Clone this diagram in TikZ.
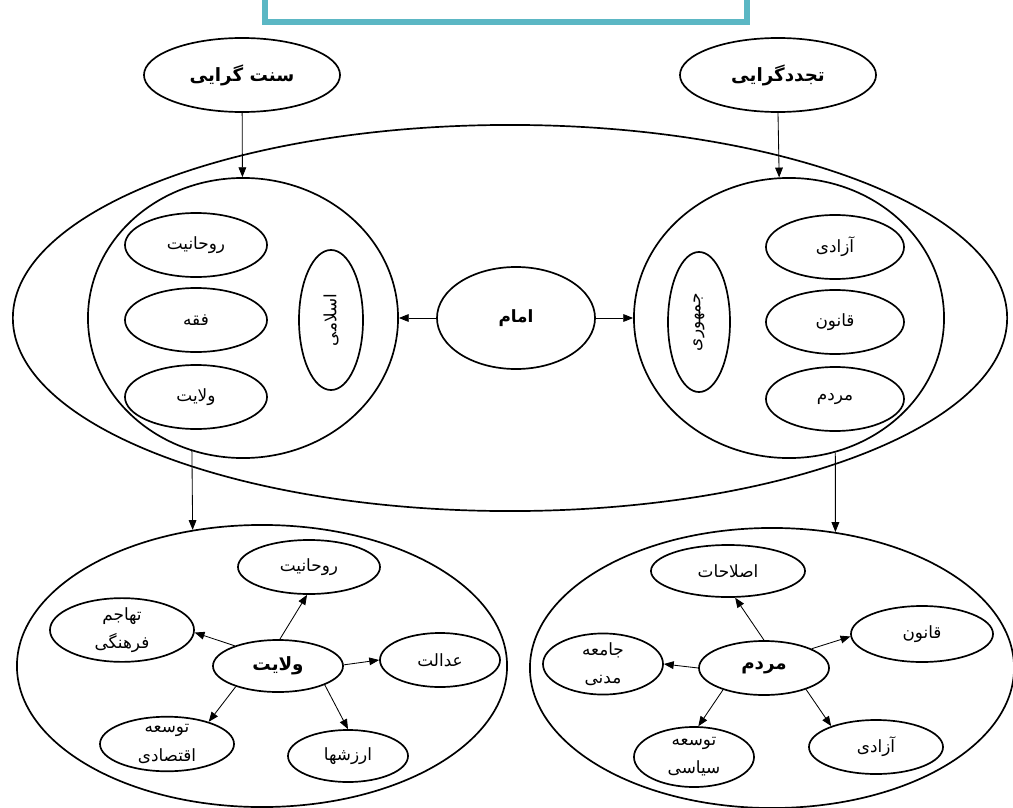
\documentclass[tikz,border=0pt]{standalone}
\usepackage{fontspec}
\usepackage[dvipsnames]{xcolor}
\usetikzlibrary{shapes.geometric,arrows.meta}
\newfontfamily\fa[Script=Arabic]{DejaVu Sans}
\TeXXeTstate=1
\definecolor{boxteal}{RGB}{91,183,196}

\begin{document}
\begin{tikzpicture}[x=0.025cm,y=-0.025cm,>={Triangle[length=7pt,width=5.5pt]},
    oval node/.style 2 args={ellipse,draw,line width=1.2pt,inner sep=0pt,align=center,
        minimum width=#1*0.05cm,minimum height=#2*0.05cm,font=\fa\fontsize{12}{20}\selectfont},
    key node/.style={font=\fa\bfseries\fontsize{13}{15}\selectfont},
    link/.style={->,line width=0.6pt}]
                \useasboundingbox (0,0) rectangle (1013,808);
                \node[draw=boxteal,line width=4.3pt,minimum width=12.05cm,minimum height=1.55cm] (0) at (506,-9) {};

                \node[oval node={98}{37},key node] (1) at (242,75) {\beginR سنت گرایی\endR};
                \node[oval node={98}{37},key node] (2) at (778,75) {\beginR تجددگرایی\endR};
                \node[oval node={497}{193}] (3) at (510,318) {};
                \node[oval node={155}{140}] (4) at (243,318) {};
                \node[oval node={155}{140}] (5) at (789,318) {};
                \node[oval node={79}{51},key node,font=\fa\bfseries\fontsize{12}{14}\selectfont] (8) at (516,318) {\beginR امام\endR};

                % sonnat side
                \node[oval node={71}{32}] (9) at (196,245) {\beginR روحانیت\endR};
                \node[oval node={71}{32}] (10) at (196,320) {\beginR فقه\endR};
                \node[oval node={71}{32}] (11) at (196,397) {\beginR ولایت\endR};
                \node[oval node={32}{70}] (12) at (331,320) {\rotatebox{90}{\beginR اسلامی\endR}};

                % tajadod side
                \node[oval node={31}{70}] (13) at (699,322) {\rotatebox{90}{\beginR جمهوری\endR}};
                \node[oval node={69}{32}] (14) at (835,247) {\beginR آزادی\endR};
                \node[oval node={69}{32}] (15) at (835,322) {\beginR قانون\endR};
                \node[oval node={69}{32}] (16) at (835,399) {\beginR مردم\endR};

                % bottom left
                \node[oval node={245}{141}] (6) at (262,666) {};
                \node[oval node={65}{26},key node] (17) at (278,666) {\beginR ولایت\endR};
                \node[oval node={71}{27}] (18) at (309,567) {\beginR روحانیت\endR};
                \node[oval node={72}{27}] (19) at (122,630) {\beginR تهاجم\endR\\\beginR فرهنگی\endR};
                \node[oval node={60}{27}] (20) at (440,660) {\beginR عدالت\endR};
                \node[oval node={67}{27}] (21) at (167,744) {\beginR توسعه\endR\\\beginR اقتصادی\endR};
                \node[oval node={60}{26}] (22) at (348,756) {\beginR ارزشها\endR};

                % bottom right
                \node[oval node={242}{140}] (7) at (772,668) {};
                \node[oval node={65}{27},key node] (23) at (764,668) {\beginR مردم\endR};
                \node[oval node={77}{26}] (24) at (728,571) {\beginR اصلاحات\endR};
                \node[oval node={71}{28}] (25) at (922,634) {\beginR قانون\endR};
                \node[oval node={60}{26}] (26) at (603,664) {\beginR جامعه\endR\\\beginR مدنی\endR};
                \node[oval node={60}{30}] (27) at (694,757) {\beginR توسعه\endR\\\beginR سیاسی\endR};
                \node[oval node={67}{27}] (28) at (876,747) {\beginR آزادی\endR};

                \path[link]
                    (1) edge (4)
                    (2.270) edge (5.94)
                    (8) edge (4)
                    (8) edge (5)
                    (4.249) edge (6.117)
                    (5.289) edge (7.65)
                    (17.86) edge (18.266)
                    (17.155) edge (19.358)
                    (17.1) edge (20.180)
                    (17.206) edge (21.28)
                    (17.338) edge (22.90)
                    (23.90) edge (24.285)
                    (23.22) edge (25.182)
                    (23.180) edge (26.0)
                    (23.208) edge (27.82)
                    (23.333) edge (28.155)
                    ;
            \end{tikzpicture}
\end{document}
